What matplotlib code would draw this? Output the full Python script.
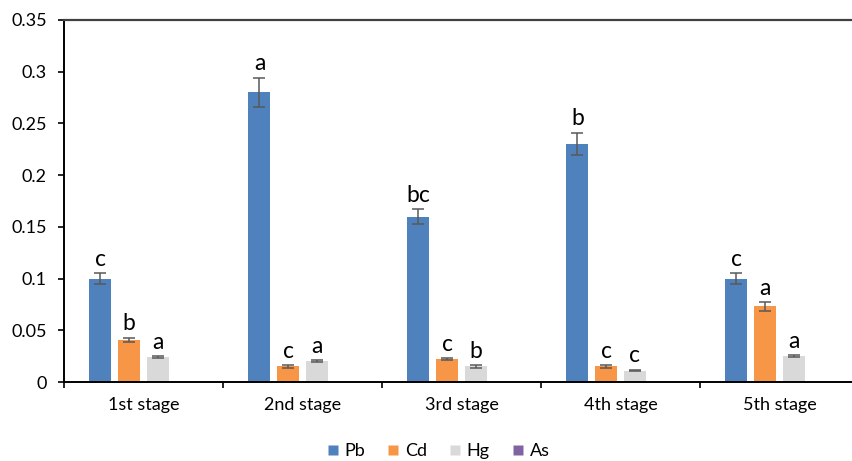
import matplotlib
matplotlib.use("Agg")
import matplotlib.pyplot as plt
from matplotlib.lines import Line2D
import numpy as np

plt.rcParams['font.family'] = ['Lato', 'DejaVu Sans']

stages = ["1st stage", "2nd stage", "3rd stage", "4th stage", "5th stage"]
series = ["Pb", "Cd", "Hg", "As"]
colors = ["#4F81BD", "#F79646", "#D9D9D9", "#8064A2"]

pb = [0.100, 0.280, 0.160, 0.230, 0.100]
cd = [0.041, 0.015, 0.022, 0.015, 0.073]
hg = [0.024, 0.020, 0.015, 0.011, 0.025]
as_ = [0.0, 0.0, 0.0, 0.0, 0.0]

pb_err = [0.005, 0.014, 0.007, 0.011, 0.005]
cd_err = [0.002, 0.001, 0.001, 0.001, 0.004]
hg_err = [0.001, 0.001, 0.001, 0.0008, 0.001]
as_err = [0, 0, 0, 0, 0]

pb_lab = ["c", "a", "bc", "b", "c"]
cd_lab = ["b", "c", "c", "c", "a"]
hg_lab = ["a", "a", "b", "c", "a"]

yticks = [0, 0.05, 0.1, 0.15, 0.2, 0.25, 0.3, 0.35]
ytick_labels = ["0", "0.05", "0.1", "0.15", "0.2", "0.25", "0.3", "0.35"]

values = [pb, cd, hg, as_]
errors = [pb_err, cd_err, hg_err, as_err]
labels = [pb_lab, cd_lab, hg_lab, None]

W, H = 853, 461
fig = plt.figure(figsize=(W / 100, H / 100), dpi=100)
ax = fig.add_axes([64 / W, 1 - 382 / H, 795 / W, 362 / H])

x = np.arange(len(stages)) + 0.5
pitch = 0.1805
bw = 0.138
for i, (vals, errs, col) in enumerate(zip(values, errors, colors)):
    pos = x + (i - 1.5) * pitch
    if max(vals) > 0:
        ax.bar(pos, vals, width=bw, color=col, edgecolor='none', zorder=2)
        ax.errorbar(pos, vals, yerr=errs, fmt='none', ecolor='#595959',
                    elinewidth=1.1, capsize=4, capthick=1.1, zorder=3)
    labs = labels[i]
    if labs:
        for p, v, e, t in zip(pos, vals, errs, labs):
            ax.annotate(t, (p, v + e), xytext=(0, 2.5), textcoords='offset points',
                        ha='center', va='bottom', fontsize=16.5, color='black')

ax.set_xlim(0, 5)
ax.set_ylim(0, 0.35)
ax.set_yticks(yticks)
ax.set_yticklabels(ytick_labels, fontsize=13)
ax.set_xticks(np.arange(0, 6))
ax.set_xticklabels([])
ax.set_xticks(x, minor=True)
ax.set_xticklabels(stages, minor=True, fontsize=13)
ax.tick_params(axis='x', which='minor', length=0, pad=11)
ax.tick_params(axis='x', which='major', direction='out', length=4.5, width=1.2)
ax.tick_params(axis='y', direction='out', length=4.5, width=1.2, pad=8)

for s in ['left', 'bottom']:
    ax.spines[s].set_color('black')
    ax.spines[s].set_linewidth(1.4)
ax.spines['top'].set_color('#404040')
ax.spines['top'].set_linewidth(1.6)
ax.spines['right'].set_visible(False)

handles = [Line2D([0], [0], marker='s', linestyle='none', markersize=6.5,
                  markerfacecolor=c, markeredgecolor='none') for c in colors]
fig.legend(handles, series, loc='center', bbox_to_anchor=(438 / W, 1 - 451 / H),
           ncol=4, frameon=False, fontsize=13, handlelength=0.7,
           handletextpad=0.3, columnspacing=1.2)

fig.savefig("out.png", dpi=100)
